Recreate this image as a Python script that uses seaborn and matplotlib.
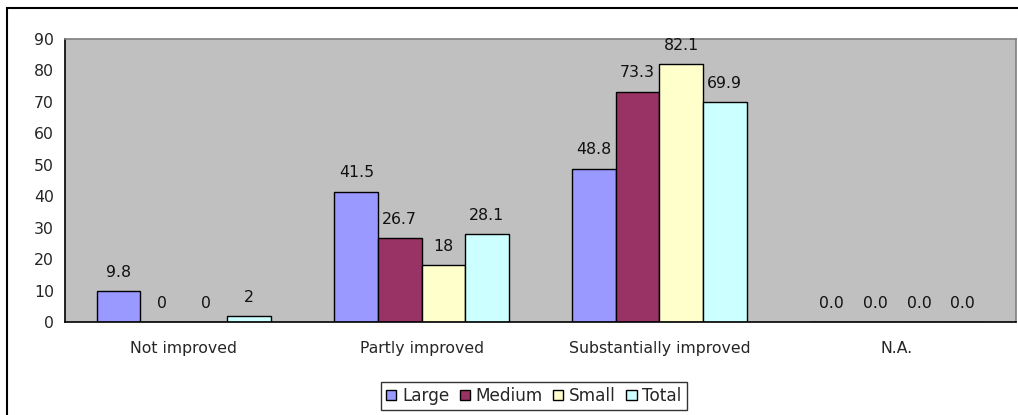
import matplotlib
matplotlib.use("Agg")
import matplotlib.pyplot as plt
from matplotlib.patches import Rectangle
import seaborn as sns
import pandas as pd

# data
categories = ["Not improved", "Partly improved", "Substantially improved", "N.A."]
series = ["Large", "Medium", "Small", "Total"]
large = [9.8, 41.5, 48.8, 0.0]
medium = [0, 26.7, 73.3, 0.0]
small = [0, 18, 82.1, 0.0]
total = [2, 28.1, 69.9, 0.0]
large_labels = ["9.8", "41.5", "48.8", "0.0"]
medium_labels = ["0", "26.7", "73.3", "0.0"]
small_labels = ["0", "18", "82.1", "0.0"]
total_labels = ["2", "28.1", "69.9", "0.0"]
colors = ["#9999FF", "#993366", "#FFFFCC", "#CCFFFF"]

df = pd.DataFrame({
    "category": categories * 4,
    "series": [s for s in series for _ in categories],
    "value": large + medium + small + total,
})

sns.set_style("white")
plt.rcParams["font.family"] = ["DejaVu Sans"]
FS = 11.3

fig = plt.figure(figsize=(10.18, 4.15), dpi=100)
ax = fig.add_axes([65 / 1018, 1 - 322 / 415, (1016 - 65) / 1018, (322 - 39) / 415])
ax.set_facecolor("#C0C0C0")

sns.barplot(data=df, x="category", y="value", hue="series", order=categories,
            hue_order=series, palette=colors, width=0.733, gap=0,
            edgecolor="black", linewidth=1, saturation=1, ax=ax, legend=True)

for cont, labs in zip(ax.containers, [large_labels, medium_labels, small_labels, total_labels]):
    ax.bar_label(cont, labels=labs, padding=8, fontsize=FS, color="#111111")

ax.set_ylim(0, 90)
ax.set_yticks(range(0, 91, 10))
ax.set_xlim(-0.5, 3.5)
ax.set_xticks([-0.5, 0.5, 1.5, 2.5, 3.5])
ax.set_xticklabels([])
ax.set_xticks(range(4), minor=True)
ax.set_xticklabels(categories, minor=True)
ax.tick_params(axis="x", which="major", direction="out", length=5, width=1, color="black")
ax.tick_params(axis="x", which="minor", length=0, pad=14, labelsize=FS)
ax.tick_params(axis="y", direction="out", length=5, width=1, color="black", labelsize=FS, pad=3)
ax.set_xlabel("")
ax.set_ylabel("")

for side in ["left", "bottom"]:
    ax.spines[side].set_color("black")
    ax.spines[side].set_linewidth(1.2)
for side in ["top", "right"]:
    ax.spines[side].set_color("#808080")
    ax.spines[side].set_linewidth(1.2)

handles, labels = ax.get_legend_handles_labels()
ax.legend(handles, labels, loc="center", bbox_to_anchor=(534 / 1018, 1 - 396 / 415),
          bbox_transform=fig.transFigure, ncol=4, frameon=True, fancybox=False,
          edgecolor="black", handlelength=0.6, handleheight=0.6, handletextpad=0.35,
          columnspacing=0.6, borderpad=0.3, fontsize=12.2)
ax.get_legend().get_frame().set_linewidth(1)

# outer chart border (only top and left are visible)
fig.patches.append(Rectangle((7 / 1018, -0.1), 1.2, 1 - 8 / 415 + 0.1, transform=fig.transFigure,
                             fill=False, edgecolor="black", linewidth=1.5, clip_on=False))

fig.savefig("out.png", dpi=100)
